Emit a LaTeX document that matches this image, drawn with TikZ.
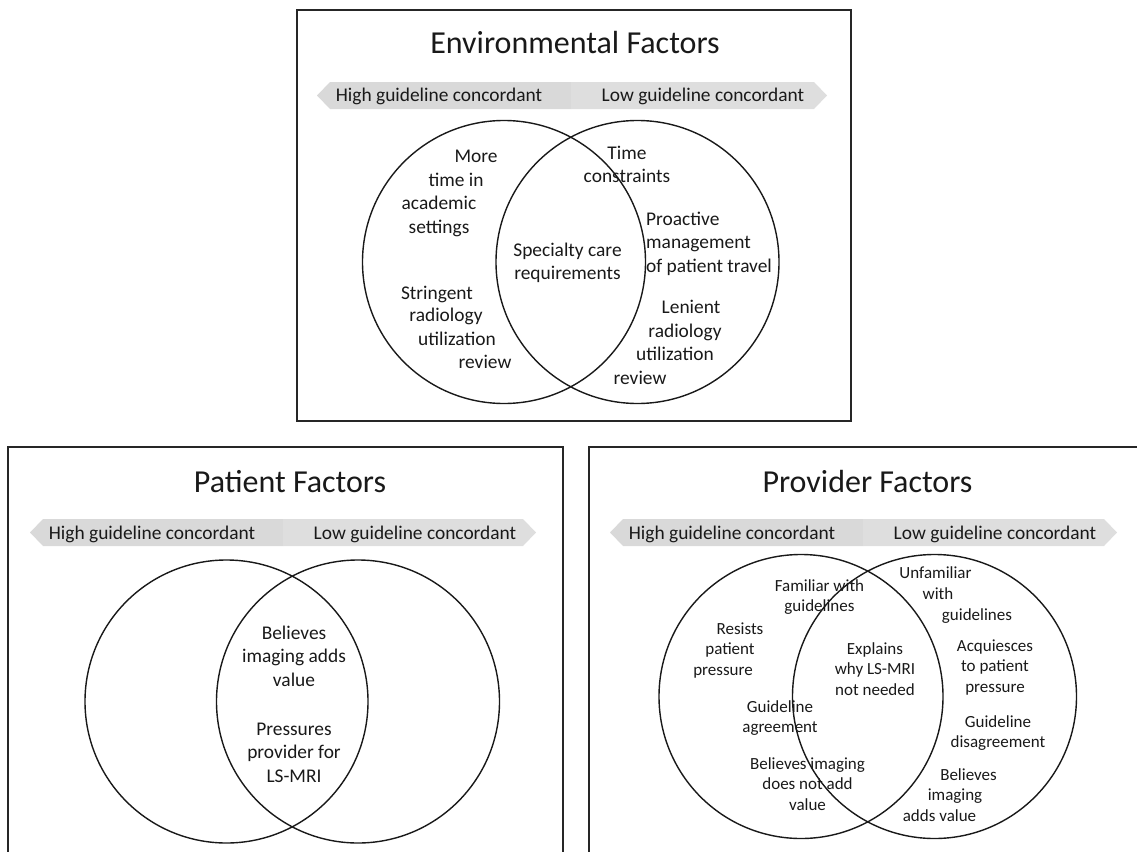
\documentclass[tikz,border=0pt]{standalone}
\usepackage{fontspec}
\setmainfont{Carlito}

\tikzset{
  panel/.style={draw=black!85, line width=1.6pt},
  venn/.style={draw=black!90, line width=1.4pt},
  bandleft/.style={fill=black!15},
  bandright/.style={fill=black!13},
  heading/.style={font=\fontsize{32}{38}\selectfont, text=black!90, inner sep=0pt, anchor=base},
  txt/.style={font=\fontsize{19.4}{23.5}\selectfont, text=black!90, align=center, inner sep=0pt, anchor=base},
  smalltxt/.style={font=\fontsize{17}{20.7}\selectfont, text=black!90, align=center, inner sep=0pt, anchor=base}
}

\begin{document}
\begin{tikzpicture}[x=1pt, y=-1pt]
        \useasboundingbox (0,0) rectangle (1137,851);
        \clip (0,0) rectangle (1137,851);

        % panels
        \draw[panel] (297,10) rectangle (851,421);
        \draw[panel] (8,447) rectangle (563,880);
        \draw[panel] (589,447) rectangle (1160,880);

        % environmental factors (multi-line nodes sit on their last line)
        \node[heading] (envtitle) at (575,53.5) {Environmental Factors};
        \fill[bandleft] (317,95.5) -- (330,82) -- (571,82) -- (571,109) -- (330,109) -- cycle;
        \fill[bandright] (571,82) -- (814,82) -- (827,95.5) -- (814,109) -- (571,109) -- cycle;
        \node[txt] (envhigh) at (439,101) {High guideline concordant};
        \node[txt] (envlow) at (703,101) {Low guideline concordant};

        \draw[venn] (504,262) circle (141.5);
        \draw[venn] (637.5,262) circle (141.5);

        \node[txt] (more1) at (476,162) {More};
        \node[txt] (more2) at (456,186) {time in};
        \node[txt] (more3) at (439,209) {academic};
        \node[txt] (more4) at (439,233) {settings};
        \node[txt] (str1) at (437,299) {Stringent};
        \node[txt] (str2) at (446,321) {radiology};
        \node[txt] (str3) at (457,345) {utilization};
        \node[txt] (str4) at (485,368) {review};
        \node[txt] (time) at (627,182.5) {Time\\constraints};
        \node[txt] (spec) at (567.5,279.5) {Specialty care\\requirements};
        \node[txt, align=left, anchor=base west] (proact) at (646,272) {Proactive\\management\\of patient travel};
        \node[txt] (len1) at (691,313) {Lenient};
        \node[txt] (len2) at (685,337) {radiology};
        \node[txt] (len3) at (675,360) {utilization};
        \node[txt] (len4) at (640,384) {review};

        % patient factors
        \node[heading] (pattitle) at (290,492) {Patient Factors};
        \fill[bandleft] (30,532.5) -- (43,519) -- (283,519) -- (283,546) -- (43,546) -- cycle;
        \fill[bandright] (283,519) -- (523,519) -- (536,532.5) -- (523,546) -- (283,546) -- cycle;
        \node[txt] (pathigh) at (152,539) {High guideline concordant};
        \node[txt] (patlow) at (415,539) {Low guideline concordant};

        \draw[venn] (226.5,701.5) circle (141.5);
        \draw[venn] (358,701.5) circle (141.5);

        \node[txt] (patval) at (294,686) {Believes\\imaging adds\\value};
        \node[txt] (patpress) at (294,782) {Pressures\\provider for\\LS-MRI};

        % provider factors
        \node[heading] (provtitle) at (867.5,492) {Provider Factors};
        \fill[bandleft] (610,532.5) -- (623,519) -- (863,519) -- (863,546) -- (623,546) -- cycle;
        \fill[bandright] (863,519) -- (1104,519) -- (1117,532.5) -- (1104,546) -- (863,546) -- cycle;
        \node[txt] (provhigh) at (732,539) {High guideline concordant};
        \node[txt] (provlow) at (995,539) {Low guideline concordant};

        \draw[venn] (801,696.5) circle (142);
        \draw[venn] (934.5,696.5) circle (142);

        \node[smalltxt] (fam) at (819.5,611.7) {Familiar with\\guidelines};
        \node[smalltxt] (unf1) at (935.5,578) {Unfamiliar};
        \node[smalltxt] (unf2) at (938,599) {with};
        \node[smalltxt] (unf3) at (977,620) {guidelines};
        \node[smalltxt] (res1) at (740,634) {Resists};
        \node[smalltxt] (res2) at (730,654) {patient};
        \node[smalltxt] (res3) at (723,675) {pressure};
        \node[smalltxt] (expl) at (875,695.4) {Explains\\why LS-MRI\\not needed};
        \node[smalltxt] (acq) at (995,692.4) {Acquiesces\\to patient\\pressure};
        \node[smalltxt] (agree) at (780,732.7) {Guideline\\agreement};
        \node[smalltxt] (disagree) at (998,747.7) {Guideline\\disagreement};
        \node[smalltxt] (noval) at (807.5,810.4) {Believes imaging\\does not add\\value};
        \node[smalltxt] (adds1) at (968.5,780) {Believes};
        \node[smalltxt] (adds2) at (955,800) {imaging};
        \node[smalltxt] (adds3) at (939.5,821) {adds value};
    \end{tikzpicture}
\end{document}
